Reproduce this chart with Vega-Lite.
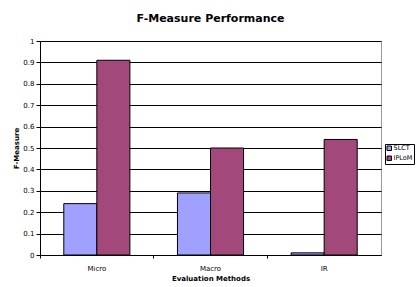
{
  "$schema": "https://vega.github.io/schema/vega-lite/v6.json",
  "width": 341,
  "height": 214,
  "autosize": {"type": "none"},
  "padding": {"left": 40, "top": 41, "right": 36, "bottom": 32},
  "background": "white",
  "title": {
    "text": "F-Measure Performance",
    "font": "DejaVu Sans",
    "fontSize": 11,
    "fontWeight": "bold",
    "color": "black",
    "anchor": "middle",
    "offset": 13
  },
  "data": {
    "values": [
      {"method": "Micro", "tool": "SLCT", "value": 0.24},
      {"method": "Micro", "tool": "IPLoM", "value": 0.91},
      {"method": "Macro", "tool": "SLCT", "value": 0.29},
      {"method": "Macro", "tool": "IPLoM", "value": 0.50},
      {"method": "IR", "tool": "SLCT", "value": 0.01},
      {"method": "IR", "tool": "IPLoM", "value": 0.54}
    ]
  },
  "mark": {"type": "bar", "stroke": "black", "strokeWidth": 1},
  "encoding": {
    "x": {
      "field": "method",
      "type": "nominal",
      "sort": ["Micro", "Macro", "IR"],
      "scale": {"paddingInner": 0, "paddingOuter": 0},
      "title": "Evaluation Methods",
      "axis": {
        "labelAngle": 0,
        "bandPosition": 0,
        "tickSize": 3,
        "labelPadding": 6,
        "titlePadding": 3
      }
    },
    "xOffset": {
      "field": "tool",
      "sort": ["SLCT", "IPLoM"],
      "scale": {"paddingOuter": 0.72, "paddingInner": 0}
    },
    "y": {
      "field": "value",
      "type": "quantitative",
      "scale": {"domain": [0, 1]},
      "title": "F-Measure",
      "axis": {
        "values": [0, 0.1, 0.2, 0.3, 0.4, 0.5, 0.6, 0.7, 0.8, 0.9, 1],
        "labelExpr": "datum.value == 0 ? '0' : datum.value == 1 ? '1' : format(datum.value, '.1f')",
        "tickSize": 4,
        "labelPadding": 2,
        "titlePadding": 3,
        "grid": true
      }
    },
    "color": {
      "field": "tool",
      "type": "nominal",
      "sort": ["SLCT", "IPLoM"],
      "scale": {"domain": ["SLCT", "IPLoM"], "range": ["#A0A0FF", "#A3487A"]},
      "legend": {
        "title": null,
        "orient": "none",
        "legendX": 345,
        "legendY": 103,
        "symbolType": "square",
        "symbolSize": 20,
        "symbolStrokeColor": "black",
        "symbolStrokeWidth": 1,
        "labelFontSize": 6.5,
        "labelFont": "DejaVu Sans",
        "labelColor": "black",
        "labelOffset": 1,
        "rowPadding": 1,
        "padding": 1,
        "strokeColor": "black",
        "fillColor": "white"
      }
    }
  },
  "config": {
    "view": {"stroke": "#999999", "strokeWidth": 1},
    "axis": {
      "labelFont": "DejaVu Sans",
      "labelFontSize": 7,
      "labelColor": "black",
      "titleFont": "DejaVu Sans",
      "titleFontSize": 7,
      "titleFontWeight": "bold",
      "titleColor": "black",
      "domainColor": "black",
      "tickColor": "black",
      "gridColor": "black",
      "gridWidth": 1,
      "domainWidth": 1,
      "tickWidth": 1
    }
  }
}
